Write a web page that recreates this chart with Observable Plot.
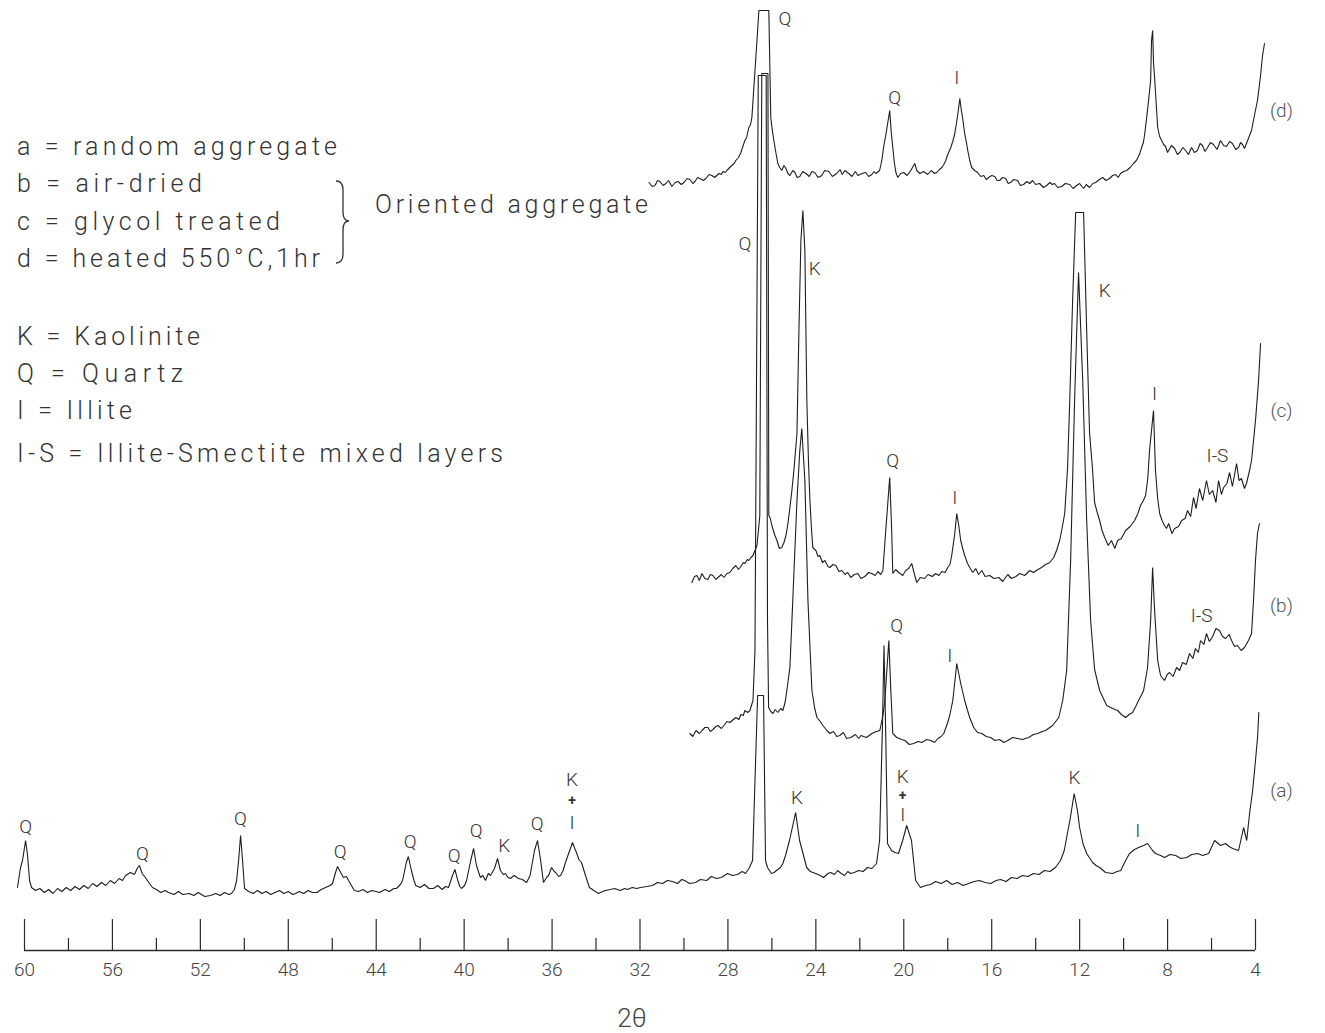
<!DOCTYPE html>
<html><head><meta charset="utf-8">
<script src="https://cdn.jsdelivr.net/npm/d3@7"></script>
<script src="https://cdn.jsdelivr.net/npm/@observablehq/plot@0.6"></script>
<style>
body{margin:0;background:#fff;}
#wrap{position:relative;width:1325px;height:1033px;overflow:hidden;}
#wrap svg{position:absolute;left:0;top:0;}
</style></head>
<body><div id="wrap"></div>
<script>
// ---- data (2θ in degrees, intensity in chart units above each trace's baseline) ----
const traceNames = ["a", "b", "c", "d"];
const traceOffsets = [65, 210, 372, 768];
const majorTicks = [60, 56, 52, 48, 44, 40, 36, 32, 28, 24, 20, 16, 12, 8, 4];
const minorTicks = [58, 54, 50, 46, 42, 38, 34, 30, 26, 22, 18, 14, 10, 6];

const traceA = [[60.32,-2],[60.18,18],[60.09,25],[59.95,45],[59.86,30],[59.77,5],[59.68,-2],
[59.5,-5],[59.3,-3],[59.1,-7],[58.9,-4],[58.7,-8],[58.5,-3],[58.3,-6],[58.1,-2],[57.9,-5],[57.7,-1],[57.5,-4],[57.3,0],[57.1,-3],[56.9,2],[56.7,-1],[56.5,3],[56.3,0],[56.1,5],[55.9,2],[55.7,7],[55.54,5],[55.4,10],[55.18,13],[55.0,11],[54.85,18],[54.77,20],[54.65,12],[54.5,8],[54.35,3],[54.18,-2],[54.0,-4],[53.8,-7],[53.6,-5],[53.45,-7],[53.2,-9],[53.0,-6],[52.8,-9],[52.5,-8],[52.3,-10],[52.1,-7],[51.8,-11],[51.54,-10],[51.3,-8],[51.1,-10],[50.9,-7],[50.7,-9],[50.58,-8],[50.45,-4],[50.35,5],[50.26,25],[50.17,50],[50.08,25],[49.99,-3],[49.8,-6],[49.6,-8],[49.4,-5],[49.2,-8],[49.0,-6],[48.8,-9],[48.6,-7],[48.4,-5],[48.2,-8],[48.0,-6],[47.8,-9],[47.67,-8],[47.5,-6],[47.3,-8],[47.1,-5],[46.9,-7],[46.7,-7],[46.5,-4],[46.3,-2],[46.1,0],[45.99,2],[45.85,13],[45.76,19],[45.62,13],[45.49,8],[45.35,9],[45.26,5],[45.1,-1],[45.0,-5],[44.8,-6],[44.6,-4],[44.4,-7],[44.2,-5],[44.0,-6],[43.85,-7],[43.6,-4],[43.4,-6],[43.2,-3],[43.08,-3],[42.9,1],[42.8,5],[42.63,23],[42.54,29],[42.4,15],[42.28,5],[42.2,0],[42.0,-2],[41.8,1],[41.6,-3],[41.4,-3],[41.2,0],[41.0,-4],[40.85,-1],[40.71,-2],[40.53,10],[40.42,16],[40.3,6],[40.2,-1],[40.12,-3],[39.98,0],[39.89,5],[39.7,25],[39.57,37],[39.44,20],[39.26,8],[39.15,10],[39.03,5],[38.9,12],[38.8,10],[38.62,17],[38.48,27],[38.35,15],[38.22,11],[38.12,12],[38.0,8],[37.9,7],[37.72,10],[37.53,7],[37.35,6],[37.16,3],[37.0,10],[36.8,35],[36.66,45],[36.52,25],[36.39,3],[36.25,8],[36.16,10],[36.02,18],[35.9,14],[35.84,13],[35.7,9],[35.61,10],[35.5,15],[35.39,23],[35.2,35],[35.07,43],[34.95,36],[34.89,33],[34.78,26],[34.66,23],[34.48,10],[34.3,-2],[34.1,-5],[33.89,-8],[33.7,-6],[33.57,-5],[33.35,-4],[33.16,-3],[32.9,-5],[32.7,-3],[32.57,-4],[32.35,-2],[32.15,-3],[31.98,-2],[31.7,-1],[31.43,0],[31.2,3],[30.97,2],[30.75,5],[30.52,4],[30.3,2],[30.1,6],[29.97,5],[29.75,2],[29.47,3],[29.25,6],[28.97,5],[28.75,9],[28.52,7],[28.3,8],[28.02,12],[27.8,10],[27.56,11],[27.35,14],[27.2,12],[27.02,18],[26.88,25],[26.65,190],[26.38,190],[26.29,25],[26.2,18],[26.02,12],[25.9,13],[25.79,15],[25.61,18],[25.5,22],[25.38,30],[25.2,45],[24.92,73],[24.74,45],[24.56,30],[24.42,18],[24.25,14],[24.01,12],[23.8,10],[23.65,8],[23.45,12],[23.33,13],[23.15,11],[23.01,15],[22.85,12],[22.69,10],[22.55,14],[22.42,12],[22.25,13],[22.06,15],[21.85,14],[21.65,18],[21.45,17],[21.24,22],[21.1,45],[20.97,160],[20.9,240],[20.82,150],[20.74,42],[20.56,35],[20.4,33],[20.24,32],[20.05,45],[19.87,60],[19.65,45],[19.46,5],[19.24,-2],[19.0,0],[18.78,1],[18.55,4],[18.3,2],[18.05,5],[17.8,1],[17.55,3],[17.3,0],[17.05,2],[16.8,4],[16.55,5],[16.3,3],[16.05,2],[15.8,5],[15.6,6],[15.35,4],[15.1,8],[14.85,7],[14.6,10],[14.35,9],[14.1,12],[13.85,11],[13.6,15],[13.35,14],[13.1,18],[12.87,25],[12.7,35],[12.42,68],[12.25,92],[12.1,75],[12.0,58],[11.85,42],[11.68,32],[11.41,23],[11.25,20],[11.09,18],[10.82,13],[10.5,12],[10.3,14],[10.13,15],[9.91,25],[9.73,32],[9.5,36],[9.32,38],[9.09,40],[8.91,42],[8.68,35],[8.55,32],[8.32,30],[8.13,28],[7.9,31],[7.63,30],[7.4,27],[7.13,28],[6.9,31],[6.63,32],[6.4,30],[6.13,32],[5.86,45],[5.59,40],[5.36,42],[5.2,39],[5.04,37],[4.77,35],[4.54,58],[4.4,45],[4.27,72],[4.13,95],[4.0,125],[3.9,150],[3.85,173]];

const traceB = [[29.73,7],[29.6,4],[29.45,10],[29.3,7],[29.18,10],[29.05,13],[28.91,13],[28.8,9],[28.68,11],[28.55,14],[28.45,15],[28.3,12],[28.18,15],[28.05,19],[27.91,18],[27.75,21],[27.64,23],[27.5,21],[27.41,26],[27.3,25],[27.23,30],[27.1,28],[27.0,30],[26.86,40],[26.77,90],[26.62,665],[26.26,665],[26.2,120],[26.15,33],[26.05,29],[25.95,27],[25.85,31],[25.73,28],[25.6,32],[25.5,30],[25.4,38],[25.32,50],[25.18,73],[25.05,140],[24.86,240],[24.73,290],[24.64,312],[24.5,260],[24.36,140],[24.18,50],[24.05,32],[23.95,23],[23.8,19],[23.68,15],[23.5,10],[23.36,7],[23.2,9],[23.05,4],[22.91,5],[22.75,8],[22.6,2],[22.41,3],[22.2,6],[22.05,2],[21.95,5],[21.7,3],[21.45,7],[21.25,9],[21.09,10],[20.95,25],[20.86,40],[20.68,100],[20.59,50],[20.5,7],[20.32,3],[20.1,1],[19.95,0],[19.75,-4],[19.55,-3],[19.35,-1],[19.18,-2],[18.95,1],[18.77,0],[18.6,-2],[18.45,2],[18.3,4],[18.18,7],[18.0,18],[17.91,25],[17.77,40],[17.59,77],[17.41,57],[17.23,40],[17.1,30],[17.0,23],[16.82,13],[16.65,8],[16.45,7],[16.25,4],[16.05,3],[15.85,0],[15.64,1],[15.45,-2],[15.27,0],[15.05,3],[14.82,2],[14.6,1],[14.32,3],[14.1,6],[13.91,7],[13.7,9],[13.55,10],[13.23,15],[12.95,23],[12.77,40],[12.59,70],[12.41,180],[12.23,340],[12.05,468],[11.86,360],[11.68,220],[11.5,120],[11.32,71],[11.09,50],[10.77,35],[10.5,32],[10.27,30],[10.1,26],[9.91,23],[9.75,26],[9.59,28],[9.45,34],[9.32,40],[9.2,45],[9.09,50],[8.91,73],[8.77,120],[8.68,173],[8.59,130],[8.45,80],[8.32,65],[8.14,60],[8.02,66],[7.91,68],[7.75,64],[7.59,73],[7.45,70],[7.32,78],[7.15,76],[7.0,87],[6.85,82],[6.73,92],[6.6,88],[6.5,100],[6.35,96],[6.23,107],[6.1,99],[5.95,104],[5.8,112],[5.64,110],[5.5,104],[5.36,102],[5.2,106],[5.09,100],[4.95,94],[4.82,95],[4.65,90],[4.5,93],[4.32,100],[4.18,107],[4.09,140],[4.0,180],[3.91,207],[3.82,217]];

const traceC = [[29.64,-4],[29.52,2],[29.41,3],[29.3,-2],[29.18,5],[29.05,0],[28.91,-1],[28.8,4],[28.68,3],[28.55,-1],[28.45,1],[28.3,4],[28.18,1],[28.05,5],[27.91,6],[27.78,10],[27.64,13],[27.52,9],[27.41,12],[27.3,16],[27.23,15],[27.12,19],[27.05,18],[26.95,21],[26.86,23],[26.75,29],[26.68,33],[26.59,53],[26.55,63],[26.46,505],[26.18,505],[26.14,63],[26.07,60],[26.0,53],[25.88,44],[25.77,38],[25.66,30],[25.55,31],[25.45,36],[25.36,43],[25.27,55],[25.18,71],[25.09,88],[25.0,108],[24.86,145],[24.77,248],[24.68,338],[24.59,368],[24.5,328],[24.41,178],[24.34,120],[24.27,78],[24.2,50],[24.14,31],[24.0,28],[23.9,22],[23.82,23],[23.7,16],[23.59,18],[23.45,12],[23.36,11],[23.22,14],[23.09,13],[22.95,7],[22.82,8],[22.68,4],[22.55,6],[22.41,1],[22.25,4],[22.09,5],[21.95,0],[21.77,2],[21.6,6],[21.45,5],[21.3,3],[21.18,7],[21.05,4],[20.95,8],[20.82,48],[20.64,101],[20.55,48],[20.5,5],[20.37,9],[20.23,6],[20.05,3],[19.91,8],[19.78,10],[19.64,15],[19.5,3],[19.41,-4],[19.25,1],[19.05,0],[18.9,4],[18.7,2],[18.55,5],[18.4,3],[18.27,7],[18.12,6],[18.0,11],[17.9,14],[17.82,23],[17.68,45],[17.59,65],[17.5,53],[17.41,38],[17.32,30],[17.23,23],[17.1,15],[17.0,11],[16.86,6],[16.73,10],[16.6,4],[16.45,8],[16.3,2],[16.09,3],[15.9,0],[15.68,1],[15.5,-3],[15.27,4],[15.1,0],[14.9,2],[14.73,5],[14.5,3],[14.27,8],[14.1,6],[13.9,9],[13.73,11],[13.55,14],[13.36,16],[13.18,21],[13.05,28],[12.91,38],[12.8,50],[12.68,65],[12.55,110],[12.45,178],[12.32,278],[12.18,366],[11.82,366],[11.68,248],[11.55,146],[11.41,108],[11.32,76],[11.2,66],[11.09,58],[10.98,48],[10.86,41],[10.7,33],[10.55,38],[10.4,30],[10.27,38],[10.1,40],[9.91,48],[9.7,52],[9.5,58],[9.35,65],[9.23,73],[9.1,78],[9.0,83],[8.9,100],[8.82,128],[8.64,168],[8.55,108],[8.45,80],[8.36,65],[8.25,58],[8.14,53],[8.05,50],[7.95,55],[7.8,45],[7.68,50],[7.5,52],[7.36,58],[7.2,60],[7.09,68],[6.95,62],[6.82,81],[6.7,70],[6.55,90],[6.4,78],[6.23,98],[6.1,84],[5.95,88],[5.8,76],[5.68,98],[5.55,84],[5.45,91],[5.3,95],[5.18,106],[5.05,92],[4.86,115],[4.75,98],[4.64,100],[4.5,90],[4.41,95],[4.27,108],[4.18,118],[4.08,140],[4.0,158],[3.86,198],[3.77,235]];

const traceD = [[31.59,0],[31.45,-4],[31.32,-3],[31.2,2],[31.09,1],[30.95,-3],[30.82,-1],[30.7,2],[30.55,-4],[30.4,0],[30.27,1],[30.12,-2],[30.0,0],[29.86,4],[29.73,3],[29.6,-1],[29.5,1],[29.38,5],[29.27,4],[29.12,2],[29.0,4],[28.86,8],[28.73,7],[28.6,5],[28.41,9],[28.3,8],[28.23,11],[28.12,10],[28.05,12],[27.92,15],[27.82,17],[27.72,19],[27.64,22],[27.52,25],[27.41,30],[27.32,36],[27.23,42],[27.15,45],[27.05,55],[26.97,58],[26.91,65],[26.59,172],[26.14,172],[26.05,65],[25.98,52],[25.91,42],[25.82,30],[25.73,19],[25.64,15],[25.55,12],[25.45,17],[25.36,14],[25.27,9],[25.18,7],[25.05,12],[24.95,10],[24.85,5],[24.73,6],[24.6,11],[24.45,9],[24.3,6],[24.18,11],[24.05,10],[23.9,5],[23.73,7],[23.6,12],[23.41,11],[23.25,6],[23.05,9],[22.9,13],[22.8,8],[22.68,12],[22.5,9],[22.36,6],[22.2,11],[22.09,7],[21.9,9],[21.73,10],[21.6,6],[21.45,8],[21.35,11],[21.27,9],[21.1,12],[21.0,22],[20.9,38],[20.82,47],[20.64,72],[20.57,50],[20.5,35],[20.43,20],[20.36,10],[20.27,5],[20.14,9],[20.0,10],[19.85,7],[19.68,12],[19.58,16],[19.5,19],[19.41,12],[19.27,9],[19.1,11],[18.91,8],[18.75,12],[18.6,9],[18.5,10],[18.38,13],[18.27,15],[18.18,18],[18.09,22],[18.0,28],[17.86,35],[17.76,42],[17.68,49],[17.55,67],[17.45,84],[17.38,72],[17.32,64],[17.23,49],[17.15,40],[17.09,32],[17.0,22],[16.91,15],[16.78,12],[16.64,10],[16.5,6],[16.36,7],[16.25,3],[16.14,5],[16.0,7],[15.86,6],[15.75,2],[15.64,2],[15.5,5],[15.36,4],[15.25,-1],[15.14,0],[15.0,3],[14.82,2],[14.7,-3],[14.55,-2],[14.4,1],[14.27,-1],[14.14,2],[14.0,-2],[13.82,-1],[13.65,-5],[13.5,-3],[13.35,0],[13.25,-2],[13.14,-1],[13.0,-5],[12.82,-4],[12.65,-1],[12.45,-2],[12.3,-6],[12.14,-3],[12.0,-1],[11.82,-6],[11.7,-2],[11.55,-5],[11.4,-1],[11.27,0],[11.1,3],[10.95,5],[10.8,2],[10.64,4],[10.5,7],[10.36,8],[10.25,5],[10.14,9],[10.0,11],[9.86,12],[9.7,15],[9.55,19],[9.42,22],[9.32,26],[9.25,30],[9.18,35],[9.1,40],[9.05,47],[8.95,65],[8.85,85],[8.77,102],[8.73,142],[8.68,152],[8.64,120],[8.59,105],[8.52,80],[8.45,55],[8.36,46],[8.27,42],[8.18,38],[8.09,36],[8.0,30],[7.95,32],[7.82,37],[7.68,34],[7.55,28],[7.45,30],[7.3,35],[7.18,32],[7.05,28],[6.91,35],[6.78,30],[6.64,32],[6.52,39],[6.41,37],[6.3,31],[6.18,35],[6.05,40],[5.91,38],[5.75,33],[5.59,42],[5.45,37],[5.32,36],[5.18,41],[5.05,39],[4.9,33],[4.77,35],[4.68,40],[4.59,38],[4.5,34],[4.41,39],[4.27,47],[4.18,52],[4.05,67],[3.91,82],[3.77,107],[3.68,127],[3.59,139]];

// peak annotations: trace, 2θ, height above that trace's baseline, text
const peakLabelTrace = ["a","a","a","a","a","a","a","a","a","a","a","a","a","a","a","a","a","a","b","b","b","c","c","c","c","c","c","c","d","d","d"];
const peakLabelTheta = [59.95,54.64,50.18,45.64,42.45,40.45,39.45,38.18,36.68,35.09,35.09,35.09,24.86,20.05,20.05,20.05,12.23,9.36,20.32,17.91,6.45,27.23,24.05,10.86,20.5,17.68,8.59,5.73,25.41,20.41,17.59];
const peakLabelLevel = [59,32,67,34,44,30,55,40,62,106,85,63,88,109,90,71,108,55,115,85,125,335,310,288,118,81,185,123,164,85,105];
const peakLabelText = ["Q","Q","Q","Q","Q","Q","Q","K","Q","K","+","I","K","K","+","I","K","I","Q","I","I-S","Q","K","K","Q","I","I","I-S","Q","Q","I"];

const seriesLabelText = ["(a)", "(b)", "(c)", "(d)"];
const seriesLabelTheta = 2.82;
const seriesLabelLevel = [95, 135, 168, 72];

const legendLines = ["a = random aggregate", "b = air-dried", "c = glycol treated", "d = heated 550°C,1hr", "K = Kaolinite", "Q = Quartz", "I = Illite", "I-S = Illite-Smectite mixed layers"];
const legendGroupText = "Oriented aggregate";
const axisTitle = "2θ";

// ---- build tables ----
const offsetOf = Object.fromEntries(traceNames.map((n, i) => [n, traceOffsets[i]]));
const rows = [];
[traceA, traceB, traceC, traceD].forEach((tr, i) =>
  tr.forEach(([t, I]) => rows.push({trace: traceNames[i], t, v: traceOffsets[i] + I})));
const labels = peakLabelText.map((text, i) => ({
  text, t: peakLabelTheta[i], v: offsetOf[peakLabelTrace[i]] + peakLabelLevel[i], small: text === "+"
}));
const seriesLabels = seriesLabelText.map((text, i) => ({text, t: seriesLabelTheta, v: traceOffsets[i] + seriesLabelLevel[i]}));

const FONT = 'Roboto,"DejaVu Sans",sans-serif';

const chart = Plot.plot({
  width: 1325, height: 1033,
  marginLeft: 24, marginRight: 70, marginTop: 0, marginBottom: 83,
  x: {domain: [60, 4], axis: null},
  y: {domain: [0, 950], axis: null},
  style: {background: "transparent", fontFamily: FONT},
  marks: [
    Plot.ruleY([0], {x1: majorTicks[0], x2: majorTicks[majorTicks.length - 1], stroke: "#2a2a2a", strokeWidth: 1.4}),
    Plot.ruleX(minorTicks, {y1: 0, y2: 12, stroke: "#2a2a2a", strokeWidth: 1.2}),
    Plot.ruleX(majorTicks, {y1: 0, y2: 31, stroke: "#2a2a2a", strokeWidth: 1.2}),
    Plot.text(majorTicks, {x: d => d, y: 0, dy: 19, text: d => String(d), fontSize: 19, fill: "#444", fontWeight: 300}),
    Plot.line(rows, {x: "t", y: "v", z: "trace", stroke: "#1e1e1e", strokeWidth: 1.1, strokeLinejoin: "miter"}),
    Plot.text(labels.filter(d => !d.small), {x: "t", y: "v", text: "text", fontSize: 19, fill: "#333", fontWeight: 300}),
    Plot.text(labels.filter(d => d.small), {x: "t", y: "v", text: "text", fontSize: 14, fill: "#333", fontWeight: 700}),
    Plot.text(seriesLabels, {x: "t", y: "v", text: "text", fontSize: 19, fill: "#555", fontWeight: 300})
  ]
});
const wrap = document.getElementById("wrap");
wrap.appendChild(chart);

// ---- legend / annotations overlay ----
const baselines = [155, 192, 230, 267, 345, 382, 419, 462];
const widths = [320, 185, 263, 303, 183, 166, 115, 486];
const ns = "http://www.w3.org/2000/svg";
const ov = document.createElementNS(ns, "svg");
ov.setAttribute("width", 1325); ov.setAttribute("height", 1033);
ov.style.pointerEvents = "none";
function addText(str, x, y, size, opts = {}) {
  const t = document.createElementNS(ns, "text");
  t.setAttribute("x", x); t.setAttribute("y", y);
  t.setAttribute("font-family", FONT);
  t.setAttribute("font-size", size);
  t.setAttribute("font-weight", 300);
  t.setAttribute("fill", opts.fill || "#333");
  if (opts.width) { t.setAttribute("textLength", opts.width); t.setAttribute("lengthAdjust", "spacing"); }
  if (opts.anchor) t.setAttribute("text-anchor", opts.anchor);
  t.textContent = str;
  ov.appendChild(t);
}
legendLines.forEach((s, i) => addText(s, 17, baselines[i], 25, {width: widths[i]}));
addText(legendGroupText, 375, 213, 25, {width: 273});
addText(axisTitle, 632, 1027, 26, {anchor: "middle", fill: "#444"});
const brace = document.createElementNS(ns, "path");
brace.setAttribute("d", "M336,181 Q343,181 343,190 L343,212 Q343,221 349,221 Q343,221 343,230 L343,254 Q343,263 336,263");
brace.setAttribute("fill", "none"); brace.setAttribute("stroke", "#333"); brace.setAttribute("stroke-width", 1.3);
ov.appendChild(brace);
wrap.appendChild(ov);
</script></body></html>
